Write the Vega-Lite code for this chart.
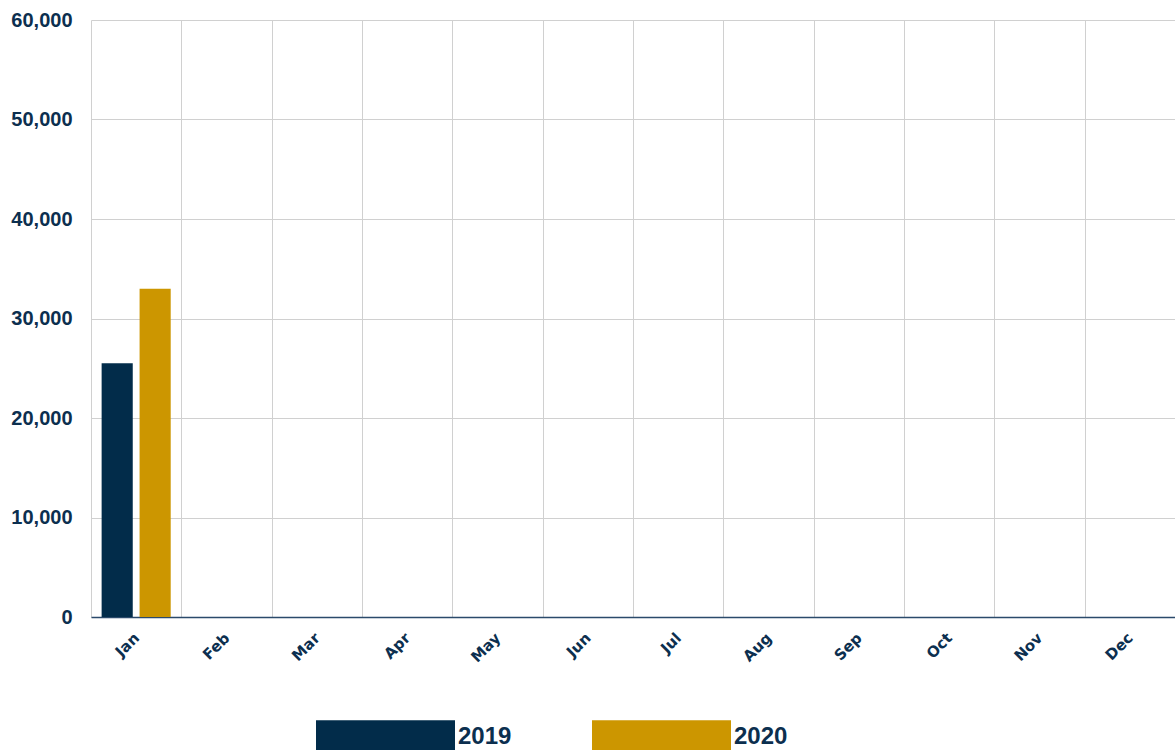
{
  "$schema": "https://vega.github.io/schema/vega-lite/v6.json",
  "width": 1084,
  "height": 597,
  "autosize": "none",
  "padding": {"left": 91, "top": 20, "right": 0, "bottom": 133},
  "background": "white",
  "config": {"view": {"stroke": null}, "font": "Liberation Sans"},
  "data": {"values": [
    {"month": "Jan", "year": "2019", "value": 25500},
    {"month": "Jan", "year": "2020", "value": 33000}
  ]},
  "mark": {"type": "bar"},
  "encoding": {
    "x": {
      "field": "month", "type": "nominal",
      "scale": {"domain": ["Jan","Feb","Mar","Apr","May","Jun","Jul","Aug","Sep","Oct","Nov","Dec"], "paddingInner": 0, "paddingOuter": 0},
      "axis": {
        "title": null, "labelAngle": -45, "labelAlign": "right", "labelBaseline": "middle",
        "labelFont": "DejaVu Sans", "labelFontWeight": "bold", "labelFontSize": 15,
        "labelColor": "#0c2f4f", "labelPadding": 18, "ticks": false, "domainColor": "#2b4a6b", "domainWidth": 1.5,
        "grid": true, "tickBand": "extent", "gridColor": "#d0d0d0", "gridWidth": 1
      }
    },
    "xOffset": {"field": "year", "type": "nominal", "scale": {"paddingInner": 0.18, "paddingOuter": 0.28}},
    "y": {
      "field": "value", "type": "quantitative",
      "scale": {"domain": [0, 60000], "nice": false},
      "axis": {
        "title": null, "values": [0,10000,20000,30000,40000,50000,60000], "format": ",.0f",
        "labelFont": "Liberation Sans", "labelFontWeight": "bold", "labelFontSize": 20, "labelColor": "#0c2f4f",
        "labelPadding": 19, "ticks": false, "domain": false, "gridColor": "#d0d0d0", "gridWidth": 1
      }
    },
    "color": {
      "field": "year", "type": "nominal",
      "scale": {"domain": ["2019","2020"], "range": ["#022c4a", "#cc9600"]},
      "legend": {
        "title": null, "orient": "none", "direction": "horizontal", "legendX": 225, "legendY": 647,
        "padding": 0, "symbolType": "M-1,-0.24H1V0.24H-1Z", "symbolSize": 19321, "symbolStrokeWidth": 0,
        "symbolOpacity": 1, "labelFont": "Liberation Sans", "labelFontWeight": "bold", "labelFontSize": 24,
        "labelColor": "#0c2f4f", "labelOffset": 3, "columnPadding": 80
      }
    }
  }
}
